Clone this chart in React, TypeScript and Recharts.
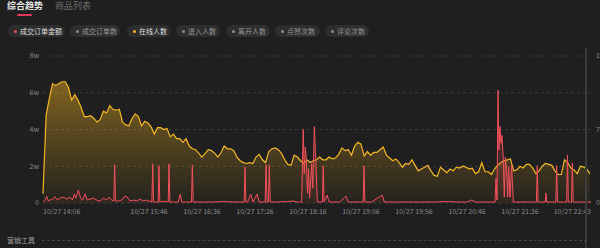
import { Area, CartesianGrid, ComposedChart, XAxis, YAxis } from "recharts";

// 直播大屏 - 综合趋势 (在线人数 + 成交订单金额)
const tabs = ["综合趋势", "商品列表"];

const metricNames = ["成交订单金额", "成交订单数", "在线人数", "进入人数", "离开人数", "点赞次数", "评论次数"];
const metricDots = ["#f4505b", "#8c8c8c", "#f6b822", "#8c8c8c", "#8c8c8c", "#8c8c8c", "#8c8c8c"];
const metricActive = [true, false, true, false, false, false, false];

// 在线人数 (单位: w), 14:06 起每 3 分钟一个点
const ONLINE_STEP = 3;
const onlineUsers = [
  0.5, 4.8, 5.7, 6.5, 6.4, 6.5, 6.6, 6.6, 6.3, 5.6,
  5.9, 5.6, 5.2, 4.7, 4.7, 4.75, 4.6, 4.4, 4.55, 5.0,
  4.9, 5.3, 5.1, 5.05, 5.1, 4.4, 4.25, 4.2, 4.6, 4.85,
  4.7, 4.2, 4.45, 4.35, 4.15, 3.75, 4.1, 4.1, 4.0, 4.05,
  3.6, 3.75, 3.5, 3.5, 3.3, 3.5, 3.1, 2.95, 2.9, 2.7,
  2.5, 2.7, 2.9, 2.85, 2.7, 2.5, 2.75, 3.1, 2.95, 2.95,
  2.85, 2.5, 2.3, 2.2, 2.15, 2.2, 2.15, 2.5, 2.65, 2.35,
  2.2, 2.8, 2.95, 3.0, 2.9, 2.7, 2.35, 2.1, 2.05, 2.6,
  2.5, 2.3, 2.15, 2.35, 2.2, 2.3, 2.35, 2.5, 2.35, 2.35,
  2.5, 2.4, 2.45, 2.65, 3.0, 2.85, 2.9, 2.6, 3.1, 3.3,
  3.2, 2.55, 2.8, 2.6, 2.75, 2.75, 2.9, 3.05, 2.6, 2.45,
  2.3, 2.4, 2.2, 1.95, 2.15, 2.1, 2.35, 2.05, 1.75, 1.85,
  1.95, 2.05, 1.75, 1.5, 1.45, 1.95, 1.8, 1.65, 1.85, 1.75,
  1.95, 1.9, 2.0, 1.95, 1.85, 1.9, 1.6, 1.7, 2.2, 1.7,
  1.7, 1.55, 1.85, 2.05, 2.2, 2.3, 2.35, 2.4, 1.75, 1.8,
  2.0, 1.9, 2.1, 2.1, 1.9, 1.6, 1.75, 2.0, 2.15, 2.1,
  2.05, 1.75, 1.55, 1.55, 2.35, 2.2, 1.9, 1.8, 1.6, 2.0,
  1.95, 1.85, 1.6,
];

// 成交订单金额 (右轴), 分钟偏移 + 数值
const orderMinutes = [
  0, 2, 3.5, 5, 6.6, 9, 11.3, 13.5, 16, 19, 22.3, 25.5, 27.7, 29.5, 31, 33.3, 35.5, 37.4, 39.6, 41.8,
  44.3, 47.5, 50.6, 53.8, 57, 60, 62.3, 64.8, 66.8, 67.6, 68.4, 71, 74.2, 77.4, 79.5, 82, 85.8, 89, 91.5, 94.6,
  97.8, 102.7, 103.5, 104.3, 108.6, 109.4, 110.2, 114, 118.1, 118.9, 119.7, 123, 127.7, 129.5, 131, 136, 140.1, 140.9, 141.7, 150,
  160, 170, 180, 189.8, 190.6, 191.4, 193, 196, 198, 202, 204, 209.6, 210.4, 211.4, 212.6, 213.5, 214.4, 220, 230, 236,
  240, 244, 245.5, 246.5, 247.5, 248.5, 249.5, 250.5, 251.5, 253.5, 254.5, 256, 257.5, 258.8, 263.6, 264.4, 265.2, 268, 270, 280,
  285.8, 288, 295, 302, 302.8, 303.6, 310, 320, 322, 330, 340, 350, 360, 370, 380, 390, 400, 404, 408, 415,
  420, 426.4, 427.4, 428.3, 429.3, 430.2, 431.1, 432.1, 433, 434.3, 435.2, 436.2, 437.4, 438.4, 439.3, 440.6, 442.1, 443.7, 450, 460,
  465.5, 466.3, 467.1, 473.8, 474.5, 475.2, 483.8, 484.6, 485.4, 494, 494.8, 495.6, 496, 498.6, 499.4, 500.2, 505, 510, 517,
];
const orderAmount = [
  0.1, 0.3, 0.7, 0.2, 0.3, 0.4, 0.65, 0.3, 0.5, 0.6, 0.4, 0.6, 0.3, 0.9, 0.5, 1.3, 0.5, 0.3, 0.9, 0.3,
  0.4, 0.5, 0.3, 0.2, 0.5, 0.3, 0.6, 0.3, 0.2, 3.9, 0.2, 0.2, 0.3, 0.7, 0.6, 0.2, 0.3, 0.2, 0.4, 0.2,
  0.3, 0.1, 4.0, 0.1, 0.1, 3.8, 0.1, 0.2, 0.1, 4.0, 0.1, 0.1, 0.1, 0.9, 0.1, 0.1, 0.1, 3.9, 0.1, 0.1,
  0.1, 0.15, 0.1, 0.1, 3.7, 0.1, 0.1, 0.9, 0.1, 0.9, 0.1, 0.1, 3.9, 0.1, 0.1, 3.9, 0.1, 0.1, 0.15, 0.2,
  0.1, 0.1, 7.5, 3.0, 5.7, 4.5, 1.0, 3.5, 0.5, 4.0, 1.5, 7.8, 4.0, 0.1, 0.1, 3.8, 0.1, 0.8, 0.1, 0.1,
  0.7, 0.1, 0.1, 0.1, 3.8, 0.1, 0.1, 0.8, 0.1, 0.1, 0.1, 0.1, 0.1, 0.1, 0.15, 0.1, 0.1, 0.3, 0.1, 0.1,
  0.1, 0.1, 2.5, 0.3, 11.5, 5.4, 7.8, 6.1, 6.9, 4.4, 0.6, 4.7, 3.4, 0.6, 3.7, 0.6, 3.9, 0.1, 0.1, 0.1,
  0.1, 3.8, 0.1, 0.1, 1.0, 0.1, 0.1, 3.8, 0.1, 0.1, 4.9, 0.1, 0.1, 0.1, 4.1, 0.1, 0.1, 0.1, 0.1,
];

const tickMinutes = [0, 100, 150, 200, 250, 300, 350, 400, 450, 517];
const tickLabels = [
  "10/27 14:06", "10/27 15:46", "10/27 16:36", "10/27 17:26", "10/27 18:16",
  "10/27 19:06", "10/27 19:56", "10/27 20:46", "10/27 21:36", "10/27 22:43",
];

type Row = { t: number; online?: number; order?: number };

const rowMap = new Map<number, Row>();
onlineUsers.forEach((v, i) => {
  const t = i * ONLINE_STEP;
  rowMap.set(t, { ...(rowMap.get(t) || { t }), online: v });
});
orderMinutes.forEach((t, i) => {
  rowMap.set(t, { ...(rowMap.get(t) || { t }), order: orderAmount[i] });
});
const rows = [...rowMap.values()].sort((a, b) => a.t - b.t);

const FONT = "'Noto Sans CJK SC', 'Noto Sans', sans-serif";
const AXIS_TEXT = "#8a8a8a";

// chip 的位置/宽度 (px)
const chipLeft = [8, 70, 127, 176, 226, 275, 325];
const chipWidth = [57, 50, 44, 44, 44, 45, 44];

function TimeTick(props: any) {
  const { x, y, payload } = props;
  const i = tickMinutes.indexOf(payload.value);
  const anchor = i === 0 ? "start" : i === tickMinutes.length - 1 ? "end" : "middle";
  return (
    <text x={x} y={y} dy="0.71em" textAnchor={anchor} fill={AXIS_TEXT} fontSize={7} fontFamily={FONT}>
      {tickLabels[i]}
    </text>
  );
}

export default function App() {
  return (
    <div style={{ position: "relative", width: 600, height: 248, background: "#1f1f1f", overflow: "hidden", fontFamily: FONT }}>
      <style>{"body{margin:0;background:#1f1f1f}"}</style>

      {/* 顶部 tab */}
      {tabs.map((name, i) => (
        <div
          key={name}
          style={{
            position: "absolute",
            left: i === 0 ? 7 : 55,
            top: 0,
            fontSize: 9,
            lineHeight: "12px",
            fontWeight: i === 0 ? 700 : 400,
            color: i === 0 ? "#e6e6e6" : "#6e6e6e",
          }}
        >
          {name}
        </div>
      ))}
      <div style={{ position: "absolute", left: 17, top: 14, width: 15, height: 1.5, background: "#e8365f", borderRadius: 1 }} />

      {/* 指标 chip */}
      {metricNames.map((name, i) => (
        <div
          key={name}
          style={{
            position: "absolute",
            left: chipLeft[i],
            top: 25,
            width: chipWidth[i],
            height: 12,
            boxSizing: "border-box",
            paddingLeft: 6,
            borderRadius: 6,
            background: "#2e2e2e",
            display: "flex",
            alignItems: "center",
            gap: 3,
            fontSize: 7,
            color: metricActive[i] ? "#dedede" : "#979797",
            whiteSpace: "nowrap",
          }}
        >
          <span style={{ width: 3, height: 3, borderRadius: 2, background: metricDots[i], flexShrink: 0 }} />
          {name}
        </div>
      ))}

      <div style={{ position: "absolute", left: 0, top: 40 }}>
        <ComposedChart width={620} height={183} data={rows} margin={{ top: 16, right: 0, bottom: 0, left: 0 }}>
          <defs>
            <linearGradient id="onlineFill" x1="0" y1="0" x2="0" y2="1">
              <stop offset="0%" stopColor="#f7b71e" stopOpacity={0.74} />
              <stop offset="100%" stopColor="#f7b71e" stopOpacity={0.04} />
            </linearGradient>
            <linearGradient id="orderFill" x1="0" y1="0" x2="0" y2="1">
              <stop offset="0%" stopColor="#f4505b" stopOpacity={0.6} />
              <stop offset="100%" stopColor="#f4505b" stopOpacity={0.08} />
            </linearGradient>
          </defs>
          <CartesianGrid yAxisId="left" vertical={false} stroke="#3a3a3a" strokeDasharray="3 3" />
          <XAxis
            dataKey="t"
            type="number"
            domain={[0, 517]}
            ticks={tickMinutes}
            interval={0}
            axisLine={false}
            tickLine={false}
            tickSize={0}
            tickMargin={6}
            height={20}
            tick={<TimeTick />}
          />
          <YAxis
            yAxisId="left"
            domain={[0, 8]}
            ticks={[0, 2, 4, 6, 8]}
            width={43}
            axisLine={false}
            tickLine={false}
            tickSize={0}
            tickMargin={4}
            tick={{ fill: AXIS_TEXT, fontSize: 7, fontFamily: FONT }}
            tickFormatter={(v: number) => (v === 0 ? "0" : `${v}w`)}
          />
          <YAxis
            yAxisId="right"
            orientation="right"
            domain={[0, 15]}
            ticks={[0, 7.5, 15]}
            width={29}
            axisLine={false}
            tickLine={false}
            tickSize={0}
            tickMargin={5}
            tick={{ fill: AXIS_TEXT, fontSize: 7, fontFamily: FONT }}
          />
          <Area
            yAxisId="left"
            type="linear"
            dataKey="online"
            stroke="#f6b822"
            strokeWidth={1.2}
            fill="url(#onlineFill)"
            connectNulls
            dot={false}
            activeDot={false}
            isAnimationActive={false}
          />
          <Area
            yAxisId="right"
            type="linear"
            dataKey="order"
            stroke="#f4505b"
            strokeWidth={1}
            fill="url(#orderFill)"
            connectNulls
            dot={false}
            activeDot={false}
            isAnimationActive={false}
          />
        </ComposedChart>
      </div>

      {/* 右侧竖线 */}
      <div style={{ position: "absolute", left: 585, top: 48, width: 1.5, height: 200, background: "#3c3c3c" }} />

      {/* 底部 营销工具 */}
      <div style={{ position: "absolute", left: 7, top: 235, fontSize: 7, lineHeight: "10px", color: "#a0a0a0" }}>营销工具</div>
      <div style={{ position: "absolute", left: 42, top: 240, width: 545, borderTop: "1px dashed #444" }} />
    </div>
  );
}
